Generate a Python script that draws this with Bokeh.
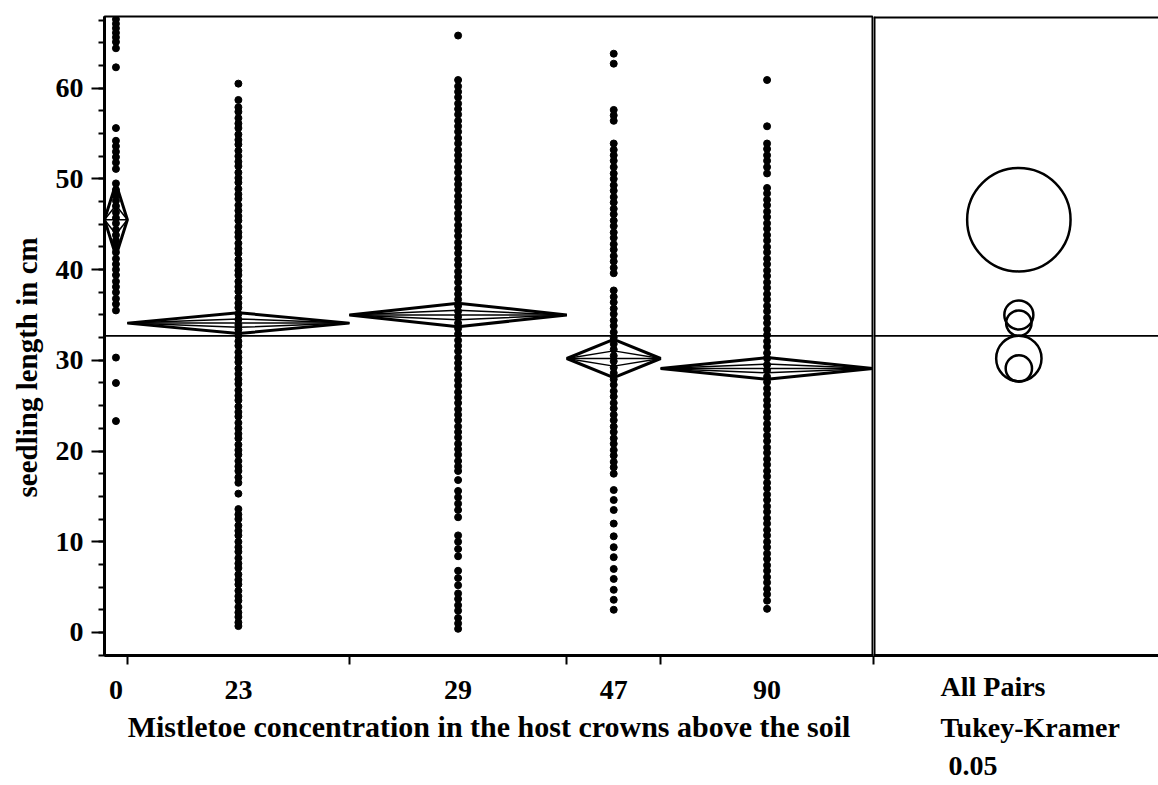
from bokeh.plotting import figure
from bokeh.models import FixedTicker, SingleIntervalTicker, Span, Title, Range1d
from bokeh.layouts import row
from bokeh.embed import file_html
from bokeh.resources import INLINE

# ---------------- data ----------------
groups = ["0", "23", "29", "47", "90"]
n_obs = [10, 97, 95, 41, 93]          # sample sizes (x axis proportional to n)
means = [45.5, 34.1, 35.0, 30.2, 29.1]
diamond_half = [4.0, 1.15, 1.3, 2.1, 1.2]   # 95% CI half widths
circle_radius = [5.7, 1.4, 1.6, 2.5, 1.45]  # Tukey-Kramer comparison circles
grand_mean = 32.7

vals_0 = [67.6, 67.1, 66.6, 66.1, 65.6, 65.1, 64.4, 62.3, 55.6, 54.2, 53.6, 53.0,
          52.4, 51.8, 51.1, 49.5, 48.8, 48.2, 47.6, 47.0, 46.3, 45.7, 45.1, 44.4,
          43.8, 43.2, 42.6, 41.9, 41.2, 40.6, 40.0, 39.4, 38.7, 38.1, 37.5, 36.8,
          36.2, 35.5, 30.3, 27.5, 23.3]
vals_23 = [60.5, 58.7, 57.9, 57.4, 56.7, 56.1, 55.6, 54.9, 54.3, 53.8, 53.1, 52.5,
           51.9, 51.4, 50.7, 50.1, 49.6, 48.9, 48.3, 47.8, 47.1, 46.5, 45.9, 45.4,
           44.7, 44.1, 43.6, 42.9, 42.3, 41.8, 41.1, 40.5, 39.9, 39.4, 38.7, 38.1,
           37.6, 36.9, 36.3, 35.8, 35.1, 34.5, 33.9, 33.4, 32.7, 32.1, 31.6, 30.9,
           30.3, 29.8, 29.1, 28.5, 27.9, 27.4, 26.7, 26.1, 25.6, 24.9, 24.3, 23.8,
           23.1, 22.5, 21.9, 21.4, 20.7, 20.1, 19.6, 18.9, 18.3, 17.8, 17.1, 16.5,
           15.3, 13.6, 13.0, 12.5, 11.8, 11.2, 10.7, 10.0, 9.4, 8.9, 8.2, 7.6, 7.1,
           6.4, 5.8, 5.3, 4.6, 4.0, 3.5, 2.8, 2.2, 1.7, 1.1, 0.7]
vals_29 = [65.8, 60.9, 60.2, 59.6, 59.0, 58.3, 57.7, 57.1, 56.4, 55.8, 55.2, 54.5,
           53.9, 53.2, 52.6, 52.0, 51.3, 50.7, 50.0, 49.4, 48.8, 48.1, 47.5, 46.9,
           46.2, 45.6, 44.9, 44.3, 43.7, 43.0, 42.4, 41.8, 41.1, 40.5, 39.8, 39.2,
           38.6, 37.9, 37.3, 36.7, 36.0, 35.4, 34.8, 34.1, 33.5, 32.9, 32.2, 31.6,
           31.0, 30.3, 29.7, 29.1, 28.4, 27.8, 27.2, 26.5, 25.9, 25.3, 24.6, 24.0,
           23.4, 22.7, 22.1, 21.5, 20.8, 20.2, 19.6, 18.9, 18.3, 17.8, 16.8, 15.6,
           14.9, 14.2, 13.5, 12.7, 10.7, 10.0, 9.2, 8.4, 6.8, 6.0, 5.2, 4.3, 3.7,
           3.0, 2.4, 1.6, 1.0, 0.4]
vals_47 = [63.8, 62.7, 57.6, 57.0, 56.4, 53.9, 53.2, 52.6, 52.0, 51.3, 50.6, 50.0,
           49.3, 48.7, 48.0, 47.4, 46.7, 46.1, 45.4, 44.8, 44.1, 43.5, 42.8, 42.2,
           41.5, 40.9, 40.2, 39.6, 37.7, 37.0, 36.4, 35.7, 35.1, 34.4, 33.8, 33.1,
           32.5, 31.8, 31.2, 30.5, 29.9, 29.2, 28.6, 27.9, 27.3, 26.6, 26.0, 25.3,
           24.7, 24.0, 23.4, 22.7, 22.1, 21.4, 20.8, 20.1, 19.5, 18.8, 18.2, 17.5,
           15.7, 14.6, 13.5, 12.0, 10.6, 9.4, 8.3, 7.0, 5.9, 4.7, 3.6, 2.5]
vals_90 = [60.9, 55.8, 53.9, 53.3, 52.6, 52.0, 51.3, 50.6, 49.0, 48.4, 47.7, 47.1,
           46.4, 45.8, 45.1, 44.5, 43.8, 43.2, 42.5, 41.9, 41.2, 40.6, 39.9, 39.3,
           38.6, 38.0, 37.3, 36.7, 36.0, 35.4, 34.7, 34.1, 33.4, 32.8, 32.1, 31.5,
           30.8, 30.2, 29.5, 28.9, 28.2, 27.6, 26.9, 26.3, 25.6, 25.0, 24.3, 23.7,
           23.0, 22.4, 21.7, 21.1, 20.4, 19.8, 19.1, 18.5, 17.8, 17.2, 16.5, 15.9,
           15.2, 14.6, 13.9, 13.3, 12.6, 12.0, 11.3, 10.7, 10.0, 9.4, 8.7, 8.1,
           7.4, 6.8, 6.1, 5.5, 4.8, 4.2, 3.5, 2.6]
values = [vals_0, vals_23, vals_29, vals_47, vals_90]

# ---------------- layout constants ----------------
FONT = "Liberation Serif"
Y0, Y1 = -2.54, 67.9
H = 785
TOP, BOTTOM = 16, 130

bounds = [0]
for n in n_obs:
    bounds.append(bounds[-1] + n)
centers = [(bounds[i] + bounds[i + 1]) / 2 for i in range(len(n_obs))]
total = bounds[-1]

yr = Range1d(Y0, Y1)

# ---------------- left panel ----------------
p = figure(width=873, height=H, x_range=Range1d(0, total), y_range=yr,
           output_backend="svg", toolbar_location=None,
           min_border_left=104, min_border_right=0, min_border_top=TOP, min_border_bottom=BOTTOM)
p.xgrid.visible = False
p.ygrid.visible = False
p.outline_line_color = "black"
p.outline_line_width = 2

px, py = [], []
for c, vs in zip(centers, values):
    for v in vs:
        px.append(c)
        py.append(v)
p.scatter(px, py, size=7, color="black", marker="circle")

# means diamonds
d_xs, d_ys, i_xs, i_ys = [], [], [], []
for i in range(len(groups)):
    l, r, m, h = bounds[i], bounds[i + 1], means[i], diamond_half[i]
    c = centers[i]
    d_xs.append([l, c, r, c])
    d_ys.append([m, m + h, m, m - h])
    hi = h * 0.4
    i_xs.append([l, c, r, c])
    i_ys.append([m, m + hi, m, m - hi])
p.patches(d_xs, d_ys, fill_alpha=0, line_color="black", line_width=3)
p.patches(i_xs, i_ys, fill_alpha=0, line_color="black", line_width=1.5)
p.segment(x0=bounds[:-1], x1=bounds[1:], y0=means, y1=means, line_color="black", line_width=1.5)

p.add_layout(Span(location=grand_mean, dimension="width", line_color="black", line_width=1.8))

# axes
p.yaxis.ticker = SingleIntervalTicker(interval=10, num_minor_ticks=4)
p.xaxis.ticker = FixedTicker(ticks=centers, minor_ticks=bounds[1:])
p.xaxis.major_label_overrides = {c: g for c, g in zip(centers, groups)}
p.xaxis.axis_label = "Mistletoe concentration in the host crowns above the soil"
for ax in (p.xaxis, p.yaxis):
    ax.axis_line_width = 3
    ax.axis_line_color = "black"
    ax.major_tick_line_color = "black"
    ax.minor_tick_line_color = "black"
    ax.major_tick_line_width = 2
    ax.minor_tick_line_width = 2
    ax.major_tick_in = 0
    ax.minor_tick_in = 0
    ax.major_label_text_font = FONT
    ax.major_label_text_font_style = "bold"
    ax.major_label_text_font_size = "28px"
    ax.major_label_text_color = "black"
    ax.axis_label_text_font = FONT
    ax.axis_label_text_font_style = "bold"
    ax.axis_label_text_font_size = "30px"
    ax.axis_label_text_color = "black"
p.yaxis.major_tick_out = 13
p.yaxis.minor_tick_out = 6
p.yaxis.major_label_standoff = 8
p.xaxis.major_tick_out = 0
p.xaxis.minor_tick_out = 9
p.xaxis.major_label_standoff = 16
p.xaxis.axis_label_standoff = 8

p.add_layout(Title(text="seedling length in cm", align="left", offset=158, standoff=16,
                   vertical_align="top",
                   text_font=FONT, text_font_size="29px", text_font_style="bold",
                   text_color="black"), "left")

# ---------------- right panel ----------------
p2 = figure(width=285, height=H, x_range=Range1d(0, 1), y_range=yr,
            output_backend="svg", toolbar_location=None, y_axis_location=None,
            min_border_left=0, min_border_right=0, min_border_top=TOP, min_border_bottom=BOTTOM)
p2.xgrid.visible = False
p2.ygrid.visible = False
p2.outline_line_alpha = 0
p2.segment(x0=[0], x1=[1], y0=[Y1], y1=[Y1], line_color="black", line_width=4)
p2.segment(x0=[0], x1=[0], y0=[Y0], y1=[Y1], line_color="black", line_width=4)
p2.add_layout(Span(location=grand_mean, dimension="width", line_color="black", line_width=1.8))
p2.circle(x=[0.51] * len(means), y=means, radius=circle_radius, radius_dimension="y",
          fill_alpha=0, line_color="black", line_width=2.5)
p2.xaxis.ticker = FixedTicker(ticks=[], minor_ticks=[0])
p2.xaxis.axis_line_width = 3
p2.xaxis.axis_line_color = "black"
p2.xaxis.minor_tick_line_width = 2
p2.xaxis.minor_tick_line_color = "black"
p2.xaxis.minor_tick_out = 9
p2.xaxis.minor_tick_in = 0
p2.xaxis.major_tick_out = 10
p2.xaxis.major_label_text_font_size = "0px"
p2.xaxis.major_label_standoff = 9

for txt, off, so in [("All Pairs", 67, 8), ("Tukey-Kramer", 67, 8), ("0.05", 75, 16)]:
    p2.add_layout(Title(text=txt, align="left", offset=off, standoff=so,
                        text_font=FONT, text_font_size="28px", text_font_style="bold",
                        text_color="black"), "below")

layout = row(p, p2, spacing=0)
open("out.html", "w").write(file_html(layout, INLINE))
